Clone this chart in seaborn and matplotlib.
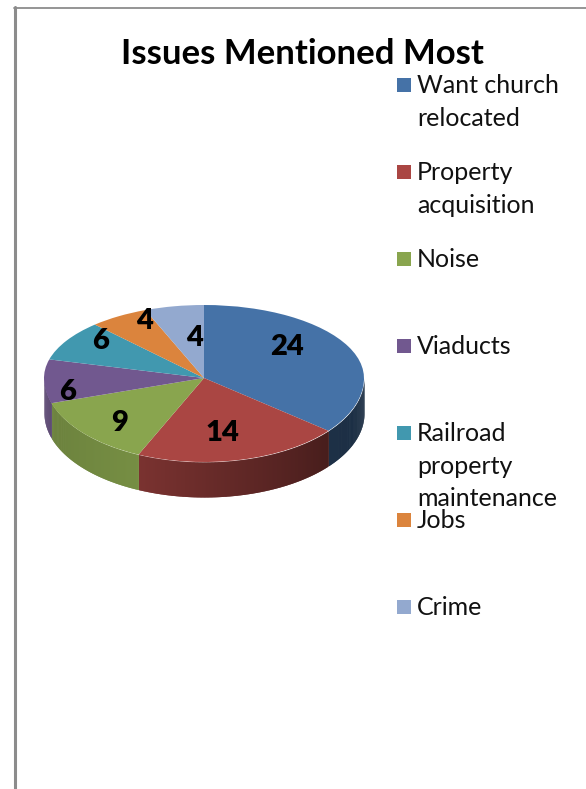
import numpy as np
import seaborn as sns
from matplotlib import pyplot as plt
from matplotlib.lines import Line2D

categories = ["Want church\nrelocated", "Property\nacquisition", "Noise", "Viaducts",
              "Railroad\nproperty\nmaintenance", "Jobs", "Crime"]
values = [24, 14, 9, 6, 6, 4, 4]
value_labels = ["24", "14", "9", "6", "6", "4", "4"]
colors = ["#4572A7", "#AA4643", "#89A54E", "#71588F", "#4198AF", "#DB843D", "#93A9CF"]

W, H = 586, 789
# label spots on the page, in pixels
label_x = [287, 222, 120, 68, 101, 144, 194]
label_y = [347, 433, 423, 392, 341, 321, 338]

sns.set_theme(style="white")
plt.rcParams['font.family'] = ['Lato', 'DejaVu Sans']
palette = sns.color_palette(colors)

fig = plt.figure(figsize=(W / 100, H / 100), dpi=100)

# pie axes, the top face is squashed so that the front half is a bit bigger (perspective)
up, down, depth = 73.0, 84.0, 35.0
ax = fig.add_axes([44 / W, 1 - 497 / H, 320 / W, 192 / H])
ax.pie(values, colors=colors, startangle=90, counterclock=False, wedgeprops={'linewidth': 0})
ax.set_aspect('auto')


def squash(y):
    y = np.asarray(y, dtype=float)
    return np.where(y > 0, y * up, y * down)


def unsquash(y):
    y = np.asarray(y, dtype=float)
    return np.where(y > 0, y / up, y / down)


ax.set_yscale('function', functions=(squash, unsquash))
ax.set_xlim(-1, 1)
ax.set_ylim(-1 - depth / down, 1)
ax.axis('off')

# side wall of the disc, with the shading running along it
edges = np.cumsum([0] + values) / sum(values) * 360
wall_start = [.40, .42, .86, .78]
wall_end = [.42, .72, .78, .80]
for i in range(len(values)):
    a, b = max(edges[i], 90), min(edges[i + 1], 270)
    if b <= a:
        continue
    t = np.linspace(a, b, int(b - a) * 2 + 2)
    light = np.linspace(wall_start[i], wall_end[i], len(t))
    base = np.array(palette[i])
    x = np.sin(np.radians(t))
    y = np.cos(np.radians(t))
    # going right to left each strip covers the seam of the one before it
    for j in range(len(t) - 1):
        ax.fill_between(x[j:j + 3], y[j:j + 3] - depth / down, y[j:j + 3],
                        color=base * light[j], lw=0, zorder=i * 0.01)

# overlay in page pixels for the texts and the legend
page = fig.add_axes([0, 0, 1, 1], facecolor='none')
page.set_xlim(0, W)
page.set_ylim(H, 0)
page.axis('off')

for i, s in enumerate(value_labels):
    page.text(label_x[i], label_y[i], s, fontsize=21, fontweight='heavy', color='black',
              ha='center', va='center')

page.text(302.5, 54, "Issues Mentioned Most", fontsize=25, fontweight='bold', color='black',
          ha='center', va='center')

# legend entries keep a fixed step, long ones run into the next one
for i, s in enumerate(categories):
    yy = 85 + 87 * i
    page.scatter([403.5], [yy], marker='s', s=115, color=colors[i], linewidths=0)
    page.text(417, yy - 11, s, fontsize=18, color='#111111', ha='left', va='top', linespacing=1.5)

# page frame
fig.add_artist(Line2D([14.5 / W, 14.5 / W], [0, 1 - 7 / H], color='#8c8c8c', lw=2.2))
fig.add_artist(Line2D([14 / W, 1], [1 - 7.5 / H, 1 - 7.5 / H], color='#8c8c8c', lw=1.3))

fig.savefig('out.png', dpi=100)
